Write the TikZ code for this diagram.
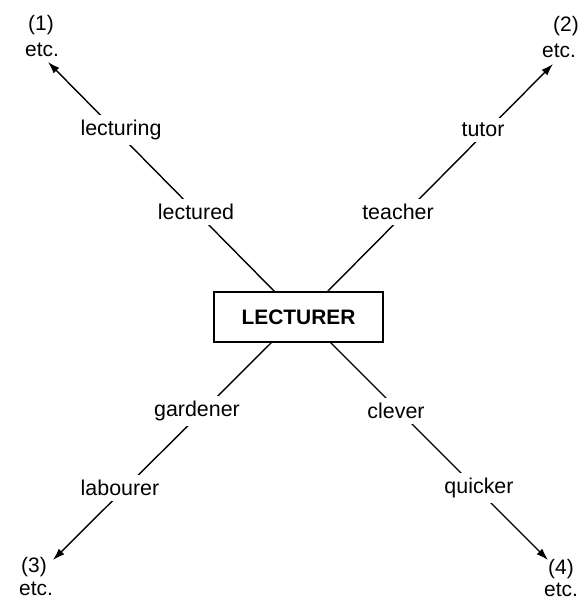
\documentclass[tikz,border=0pt]{standalone}
\usepackage{fontspec}
\setmainfont{Liberation Sans}
\usetikzlibrary{arrows.meta}
\tikzset{
  word/.style={fill=white, inner xsep=3bp, inner ysep=5bp, font=\fontsize{21.5}{25}\selectfont},
  tag/.style={inner sep=0pt, font=\fontsize{21}{25}\selectfont},
  mainbox/.style={draw, line width=2bp, minimum width=169bp, minimum height=50bp, inner sep=0pt, font=\fontsize{21}{25}\selectfont\bfseries},
  arrowlink/.style={line width=1.4bp, -{Latex[length=12bp,width=8bp]}}
}
\begin{document}
\begin{tikzpicture}[x=1bp, y=-1bp]
\useasboundingbox (0,0) rectangle (582,600);
\node[mainbox] (box) at (298.5,317) {LECTURER};
% connector ends
\coordinate (s1) at (275,292);
\coordinate (s2) at (327,292);
\coordinate (s3) at (272,342);
\coordinate (s4) at (330,342);
\coordinate (t1) at (48,62);
\coordinate (t2) at (553,64);
\coordinate (t3) at (53,560);
\coordinate (t4) at (548,560);
\draw[arrowlink] (s1) -- (t1);
\draw[arrowlink] (s2) -- (t2);
\draw[arrowlink] (s3) -- (t3);
\draw[arrowlink] (s4) -- (t4);
% labels on the lines
\node[word] (lecturing) at (121,130) {lecturing};
\node[word] (lectured) at (196,212) {lectured};
\node[word] (teacher) at (398,212) {teacher};
\node[word] (tutor) at (483,130) {tutor};
\node[word] (gardener) at (197,411) {gardener};
\node[word] (clever) at (396,411) {clever};
\node[word] (labourer) at (120,488) {labourer};
\node[word] (quicker) at (479,488) {quicker};
% end tags
\node[tag] (n1) at (41,25) {(1)};
\node[tag] (e1) at (42,50) {etc.};
\node[tag] (n2) at (566,26) {(2)};
\node[tag] (e2) at (559,51) {etc.};
\node[tag] (n3) at (34,567) {(3)};
\node[tag] (e3) at (36,589) {etc.};
\node[tag] (n4) at (561,569) {(4)};
\node[tag] (e4) at (561,590) {etc.};
\end{tikzpicture}
\end{document}
